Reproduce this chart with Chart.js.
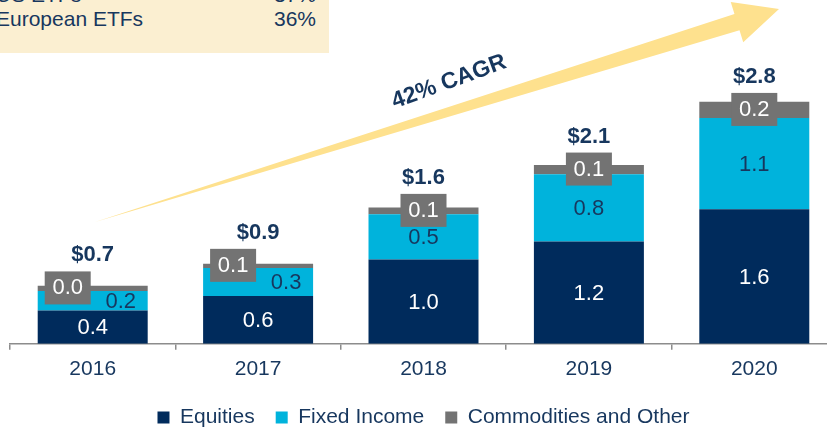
<!DOCTYPE html>
<html>
<head>
<meta charset="utf-8">
<script src="https://cdn.jsdelivr.net/npm/chart.js@4.4.1/dist/chart.umd.min.js"></script>
<style>
    html, body { margin: 0; padding: 0; background: #fff; overflow: hidden; }
    .wrap { position: relative; width: 827px; height: 429px; overflow: hidden; }
    canvas { position: absolute; left: 0; top: 0; }
    .box { position: absolute; left: 0; top: 0; width: 329px; height: 53px; background: #fbefd1; overflow: hidden; }
    .row { position: absolute; left: -4px; width: 320px; font: 21px "Liberation Sans", Arial, sans-serif; color: #17375e; }
    .row span { position: absolute; right: 0; }
</style>
</head>
<body>
<div class="wrap">
    <canvas id="etf" width="840" height="429"></canvas>
    <div class="box">
        <div class="row" style="top:-17px">US ETFs<span>37%</span></div>
        <div class="row" style="top:7px">European ETFs<span>36%</span></div>
    </div>
</div>
<script>
const years = ["2016", "2017", "2018", "2019", "2020"]
const equities = [0.39, 0.56, 0.99, 1.2, 1.58]
const fixedIncome = [0.23, 0.33, 0.53, 0.79, 1.07]
const commodities = [0.06, 0.05, 0.08, 0.11, 0.19]
const equitiesLabels = ["0.4", "0.6", "1.0", "1.2", "1.6"]
const fixedLabels = ["0.2", "0.3", "0.5", "0.8", "1.1"]
const otherLabels = ["0.0", "0.1", "0.1", "0.1", "0.2"]
const totalLabels = ["$0.7", "$0.9", "$1.6", "$2.1", "$2.8"]
const cagrText = "42% CAGR"

const navy = '#002b5c'
const cyan = '#00b3dc'
const grey = '#737373'
const textNavy = '#17375e'
const font = '"Liberation Sans", Arial, sans-serif'

// yellow growth arrow behind the bars
const arrowPlugin = {
    id: 'arrow',
    beforeDatasetsDraw(chart) {
        const c = chart.ctx
        const tail = { x: 95, y: 222 }
        const tip = { x: 779, y: 9 }
        const dx = tip.x - tail.x, dy = tip.y - tail.y
        const len = Math.sqrt(dx * dx + dy * dy)
        const ux = dx / len, uy = dy / len
        const px = -uy, py = ux
        const headLen = 44, headW = 21, shaftW = 8.5
        const bx = tip.x - ux * headLen, by = tip.y - uy * headLen
        c.save()
        c.fillStyle = '#fee18e'
        c.beginPath()
        c.moveTo(tail.x, tail.y)
        c.lineTo(bx + px * shaftW, by + py * shaftW)
        c.lineTo(bx + px * headW, by + py * headW)
        c.lineTo(tip.x, tip.y)
        c.lineTo(bx - px * headW, by - py * headW)
        c.lineTo(bx - px * shaftW, by - py * shaftW)
        c.closePath()
        c.fill()

        c.translate(449, 82)
        c.rotate(-0.35)
        c.fillStyle = textNavy
        c.font = 'bold 23px ' + font
        c.textAlign = 'center'
        c.textBaseline = 'middle'
        c.fillText(cagrText, 0, 0)
        c.restore()
    }
}

// value labels on the segments and totals above
const labelPlugin = {
    id: 'labels',
    afterDatasetsDraw(chart) {
        const c = chart.ctx
        const eq = chart.getDatasetMeta(0).data
        const fi = chart.getDatasetMeta(1).data
        const ot = chart.getDatasetMeta(2).data
        c.save()
        c.textAlign = 'center'
        c.textBaseline = 'middle'
        years.forEach((y, i) => {
            const small = (fi[i].base - fi[i].y) < 40
            const shift = small ? 25 : 0
            c.font = '22px ' + font

            c.fillStyle = '#ffffff'
            c.fillText(equitiesLabels[i], eq[i].x, (eq[i].y + eq[i].base) / 2 + 1)

            c.fillStyle = textNavy
            c.fillText(fixedLabels[i], fi[i].x + (small ? 28 : 0), (fi[i].y + fi[i].base) / 2 + 1)

            const gy = (ot[i].y + ot[i].base) / 2
            const gx = ot[i].x - shift
            c.fillStyle = grey
            c.fillRect(gx - 23, gy - 17, 46, 33)
            c.fillStyle = '#ffffff'
            c.fillText(otherLabels[i], gx, gy)

            c.fillStyle = textNavy
            c.font = 'bold 22px ' + font
            c.fillText(totalLabels[i], ot[i].x, gy - 33)
        })
        c.restore()
    }
}

const ctx = document.getElementById('etf')
const etfChart = new Chart(ctx, {
    type: 'bar',
    data: {
        labels: years,
        datasets: [{
            label: 'Equities',
            data: equities,
            backgroundColor: navy
        }, {
            label: 'Fixed Income',
            data: fixedIncome,
            backgroundColor: cyan
        }, {
            label: 'Commodities and Other',
            data: commodities,
            backgroundColor: grey
        }]
    },
    options: {
        responsive: false,
        animation: false,
        categoryPercentage: 1,
        barPercentage: 0.665,
        layout: {
            padding: { left: 10, right: 3, top: 3, bottom: -9 }
        },
        scales: {
            x: {
                stacked: true,
                afterFit: function(scale) {
                    scale.height -= 3
                },
                border: { display: true, color: '#8c8c8c', width: 1.5 },
                grid: {
                    offset: true,
                    drawOnChartArea: false,
                    drawTicks: true,
                    tickLength: 6,
                    color: '#8c8c8c',
                    lineWidth: 1.5
                },
                ticks: {
                    padding: 7,
                    color: textNavy,
                    font: { family: font, size: 21 }
                }
            },
            y: {
                stacked: true,
                display: false,
                min: 0,
                max: 4
            }
        },
        plugins: {
            legend: {
                position: 'bottom',
                labels: {
                    boxWidth: 12,
                    boxHeight: 12,
                    padding: 21,
                    color: textNavy,
                    font: { family: font, size: 21 }
                }
            },
            tooltip: { enabled: false }
        }
    },
    plugins: [arrowPlugin, labelPlugin]
})
</script>
</body>
</html>
